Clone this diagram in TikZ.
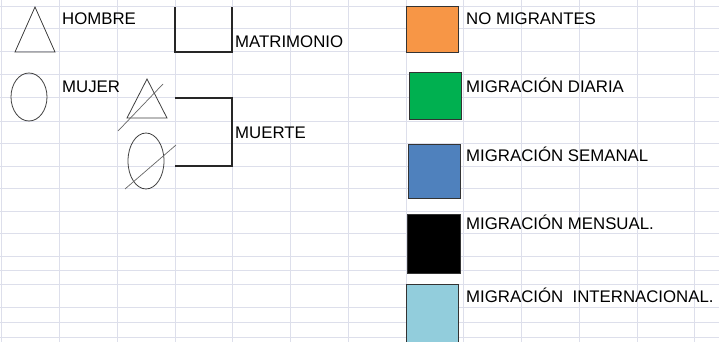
\documentclass[tikz,border=0pt]{standalone}
\usepackage{fontspec}
\setmainfont{Liberation Sans}
\usepackage{tikz}
\usetikzlibrary{shapes}
\definecolor{rejilla}{HTML}{DDDFEB}
\definecolor{trazo}{HTML}{404040}
\definecolor{naranja}{HTML}{F79646}
\definecolor{verde}{HTML}{00B050}
\definecolor{azul}{HTML}{4F81BD}
\definecolor{celeste}{HTML}{92CDDC}
\tikzstyle{t} = [anchor=base west, inner sep=0pt, font=\fontsize{16.8}{20}\selectfont]
\tikzstyle{caja} = [draw=black!80, line width=1pt]
\tikzstyle{figura} = [draw=trazo, line width=0.8pt]
\tikzstyle{tacha} = [draw=trazo!80, line width=0.7pt]
\tikzstyle{llave} = [draw=black!85, line width=1.4pt]

\begin{document}
\begin{tikzpicture}
				[x=1pt, y=-1pt]
				\useasboundingbox (0,0) rectangle (719,342);
				\fill[white] (0,0) rectangle (719,342);
				% rejilla de la hoja
				\foreach \y in {7,29,52,75,98,121,143,166,188,211,233,256,270,284,307,322,337}
				\draw[rejilla, line width=1pt] (0,\y) -- (719,\y);
				\foreach \x in {1,59,117,175,232,290,348,406,463,521,579,637,694}
				\draw[rejilla, line width=1pt] (\x,0) -- (\x,342);
				% hombre y mujer
				\draw[figura] (35,7) coordinate(hA) -- (55,52) coordinate(hB) -- (15,52) coordinate(hC) -- cycle;
				\node[figura, ellipse, minimum width=36pt, minimum height=48pt, inner sep=0pt] (mujer) at (29,97) {};
				\node[t] (hombre) at (62,25) {HOMBRE};
				\node[t] (tmujer) at (62,93) {MUJER};
				% matrimonio
				\coordinate (m1) at (175,7);
				\coordinate (m2) at (175,52);
				\coordinate (m3) at (232,52);
				\coordinate (m4) at (232,7);
				\draw[llave] (m1) -- (m2) -- (m3) -- (m4);
				\node[t] (matrimonio) at (235,48) {MATRIMONIO};
				% muerte
				\draw[figura] (147,79) -- (167,118) -- (127,118) -- cycle;
				\coordinate (d1) at (118,131);
				\coordinate (d2) at (163,84);
				\draw[tacha] (d1) -- (d2);
				\node[figura, ellipse, minimum width=36pt, minimum height=56pt, inner sep=0pt] (mujerm) at (146,161) {};
				\coordinate (d3) at (125,189);
				\coordinate (d4) at (176,145);
				\draw[tacha] (d3) -- (d4);
				\coordinate (b1) at (175,98);
				\coordinate (b2) at (232,98);
				\coordinate (b3) at (232,166);
				\coordinate (b4) at (175,166);
				\draw[llave] (b1) -- (b2) -- (b3) -- (b4);
				\node[t] (muerte) at (235,138) {MUERTE};
				% migracion
				\foreach \n/\c/\xa/\ya/\xb/\yb in {no/naranja/406/7/458/53, diaria/verde/409/73/461/119, semanal/azul/408/144/460/198, mensual/black/407/214/460/273, internacional/celeste/406/284/458/342}
				\draw[caja, fill=\c] (\xa,\ya) rectangle (\xb,\yb) node[midway, inner sep=0pt] (\n) {};
				\node[t] (tno) at (466,25) {NO MIGRANTES};
				\node[t] (tdiaria) at (466,93) {MIGRACIÓN DIARIA};
				\node[t] (tsemanal) at (466,161) {MIGRACIÓN SEMANAL};
				\node[t] (tmensual) at (466,229) {MIGRACIÓN MENSUAL.};
				\node[t] (tinternacional) at (466,302) {MIGRACIÓN\ \ INTERNACIONAL.};
			\end{tikzpicture}
\end{document}
